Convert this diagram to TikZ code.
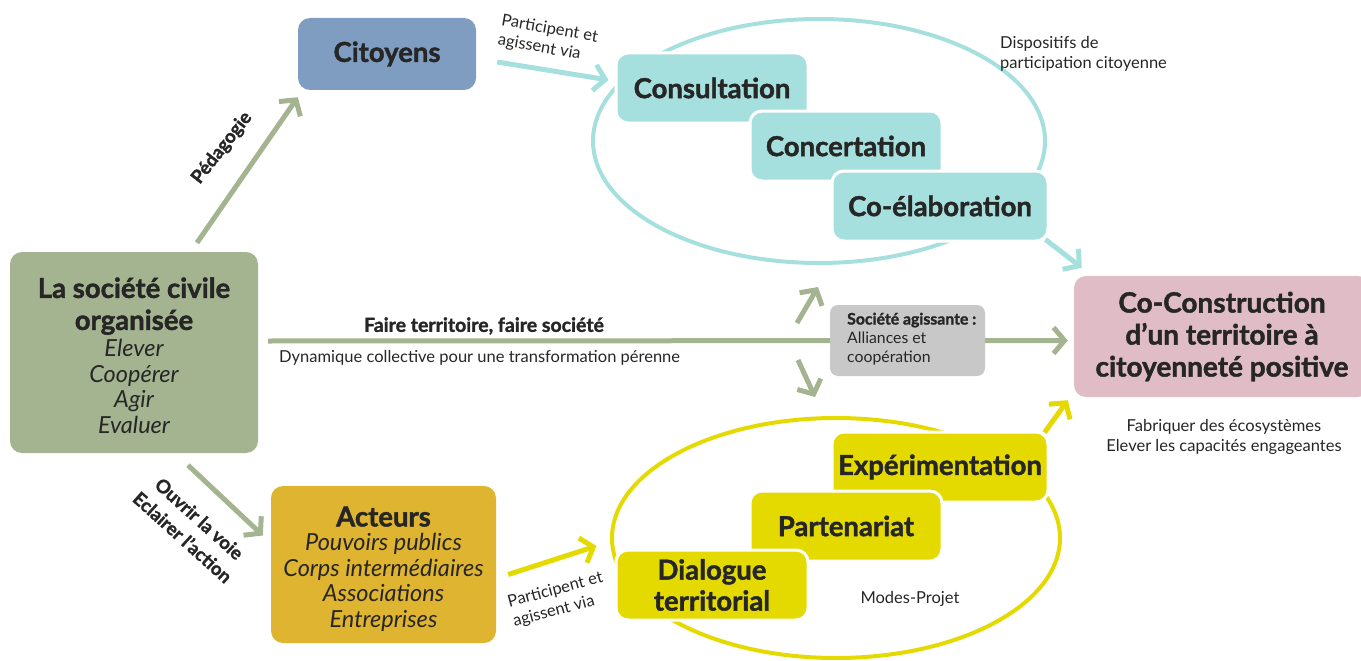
\documentclass[tikz,border=0pt]{standalone}
\usepackage{fontspec}
\setmainfont{Lato}[BoldFeatures={FakeBold=1.5}]
\usetikzlibrary{arrows.meta,calc}
\definecolor{txt}{HTML}{262626}
\definecolor{cgreen}{HTML}{A4B490}
\definecolor{cblue}{HTML}{7F9DC0}
\definecolor{cgold}{HTML}{DFB430}
\definecolor{cpink}{HTML}{E0BCC7}
\definecolor{ccyan}{HTML}{A6E0DE}
\definecolor{cyel}{HTML}{E4DA00}
\definecolor{cgray}{HTML}{C8C8C8}
\newcommand\hdfont{\fontsize{27.5}{33}\selectfont\bfseries\upshape}
\tikzset{
  boxst/.style={rounded corners=12pt, inner sep=0pt, align=center, text=txt},
  boxtxt/.style={inner sep=0pt, align=center, text=txt, font=\fontsize{23.5}{25}\selectfont\itshape},
  stepbox/.style={boxst, draw=white, line width=3pt, minimum height=70pt, font=\fontsize{27.5}{31}\selectfont\bfseries},
  arr/.style={line width=5pt, -{Straight Barb[length=11pt,width=26pt,line width=5pt]}},
  garr/.style={arr, draw=cgreen},
  carr/.style={arr, draw=ccyan},
  yarr/.style={arr, draw=cyel},
  lbl/.style={text=txt, inner sep=0pt, font=\fontsize{16.5}{20}\selectfont},
  blbl/.style={lbl, font=\fontsize{18.5}{22}\selectfont\bfseries},
}
\begin{document}
\begin{tikzpicture}[x=1pt,y=-1pt]
\useasboundingbox (0,0) rectangle (1361,661);
% ellipses
\draw[ccyan, line width=4pt] (819,141) ellipse [x radius=226, y radius=122];
\draw[cyel, line width=4pt] (836,538) ellipse [x radius=224, y radius=120];
% main boxes
\node[boxst, fill=cgreen, minimum width=248pt, minimum height=201pt] (soc) at (134,352.5) {};
\node[boxtxt] (soctxt) at (134,355.5)
 {\hdfont La société civile\\[7pt]\hdfont organisée\\[2pt]
  Elever\\[0.5pt]Coopérer\\[0.5pt]Agir\\[0.5pt]Evaluer};
\node[boxst, fill=cblue, minimum width=178pt, minimum height=72pt, font=\fontsize{27.5}{31}\selectfont\bfseries] (cit) at (387,54) {Citoyens};
\node[boxst, fill=cgold, minimum width=225pt, minimum height=157pt] (act) at (383.5,564.5) {};
\node[boxtxt, font=\fontsize{23.5}{25.5}\selectfont\itshape] (acttxt) at (383.5,569)
 {\hdfont Acteurs\\[-1pt]
  Pouvoirs publics\\Corps intermédiaires\\Associations\\Entreprises};
\node[boxst, fill=cpink, minimum width=296pt, minimum height=121pt, font=\fontsize{28}{32}\selectfont\bfseries] (pink) at (1222,336.5)
 {Co-Construction\\d’un territoire à\\citoyenneté positive};
% cyan steps
\node[stepbox, fill=ccyan, minimum width=192pt] (cons) at (712,88) {Consultation};
\node[stepbox, fill=ccyan, minimum width=192pt] (conc) at (846,146) {Concertation};
\node[stepbox, fill=ccyan, minimum width=216pt] (coel) at (940,206) {Co-élaboration};
% yellow steps
\node[stepbox, fill=cyel, minimum width=216pt] (exp) at (940,467) {Expérimentation};
\node[stepbox, fill=cyel, minimum width=192pt] (part) at (846,526) {Partenariat};
\node[stepbox, fill=cyel, minimum width=192pt] (dial) at (712,585) {Dialogue\\territorial};
% main line and gray box
\draw[garr] ($(soc.east)+(10,-11.5)$) -- ($(pink.west)+(-6,4)$);
\coordinate (up0) at (797,323); \coordinate (up1) at (818,287);
\coordinate (dn0) at (798,360); \coordinate (dn1) at (815,397);
\draw[garr] (up0) -- (up1);
\draw[garr] (dn0) -- (dn1);
\node[boxst, fill=cgray, rounded corners=8pt, minimum width=155pt, minimum height=71pt] (gray) at (907.5,340.5) {};
\node[lbl, align=left, anchor=west, font=\fontsize{15.8}{19}\selectfont] (graytxt) at (847,339)
 {\textbf{Société agissante :}\\Alliances et\\coopération};
% other arrows
\draw[garr] ($(soc.north)+(63,-9)$) -- ($(cit.south west)+(0,7)$);
\draw[garr] ($(soc.south)+(54,12)$) -- ($(act.west)+(-8,-29)$);
\draw[carr] ($(cit.east)+(21,8)$) -- ($(cons.west)+(-6,-8)$);
\draw[carr] ($(coel.south east)+(-4,-3)$) -- ($(pink.north west)+(8,-8)$);
\draw[yarr] ($(act.east)+(12,10)$) -- ($(dial.west)+(-18,-39)$);
\draw[yarr] ($(exp.north east)+(-5,2)$) -- ($(pink.south west)+(-6,3)$);
% labels
\node[blbl, rotate=52] (ped) at (222,148) {Pédagogie};
\node[blbl, rotate=-42, align=center, font=\fontsize{18.5}{25}\selectfont\bfseries] (ouv) at (191,528) {Ouvrir la voie\\Eclairer l’action};
\node[lbl, font=\fontsize{19.5}{22}\selectfont\bfseries] (faire) at (484,326) {Faire territoire, faire société};
\node[lbl, anchor=west] (dyn) at (279,358) {Dynamique collective pour une transformation pérenne};
\node[lbl, rotate=-10, align=left] (part1) at (548,39) {Participent et\\agissent via};
\node[lbl, rotate=15, align=left] (part2) at (558,600) {Participent et\\agissent via};
\node[lbl, align=left, anchor=west] (disp) at (1000,54) {Dispositifs de\\participation citoyenne};
\node[lbl, align=center] (fab) at (1224,437) {Fabriquer des écosystèmes\\Elever les capacités engageantes};
\node[lbl] (modes) at (910,599) {Modes-Projet};
\end{tikzpicture}
\end{document}
